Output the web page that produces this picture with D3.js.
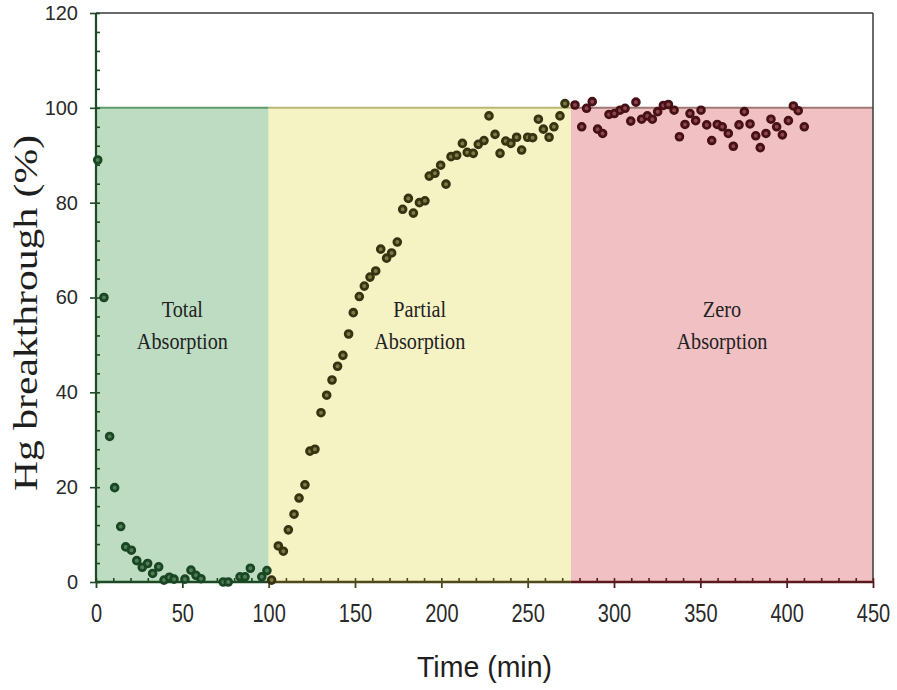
<!DOCTYPE html>
<html>
<head>
<meta charset="utf-8">
<script src="https://cdn.jsdelivr.net/npm/d3@7"></script>
<style>
  html, body { margin: 0; padding: 0; background: #fff; }
  svg { display: block; }
</style>
</head>
<body>
<svg id="chart" width="897" height="690"></svg>
<script>
// Hg breakthrough measurements (time in min, breakthrough in %)
const timeTotal = [1, 4.6, 7.9, 10.8, 14.3, 17.2, 20.5, 23.6, 26.8, 29.9, 32.8, 36.3, 39.4, 42.5, 45.2, 51.5, 55, 57.9, 60.8, 73.7, 76.6, 83.4, 86.3, 89.4, 96, 99];
const hgTotal   = [89, 60, 30.7, 19.9, 11.7, 7.4, 6.7, 4.5, 3.1, 3.9, 1.8, 3.2, 0.4, 1.0, 0.6, 0.6, 2.5, 1.4, 0.7, 0, 0, 1.1, 1.1, 2.9, 1.1, 2.4];

const timePartial = [101.7, 105.6, 108.5, 111.4, 114.7, 117.6, 121, 123.9, 126.8, 130.3, 133.6, 136.7, 139.9, 143, 146.3, 149, 152.5, 155.4, 158.7, 162, 164.9, 168.3, 171.2, 174.5, 177.6, 180.9, 183.8, 187.3, 190.5, 193, 196.3, 199.6, 202.7, 205.6, 208.9, 212.2, 215, 218.5, 221.4, 224.7, 227.6, 231.1, 234, 237.3, 240.3, 243.6, 246.5, 250, 252.9, 256.2, 259.1, 262.4, 265.2, 268.7, 271.6];
const hgPartial   = [0.4, 7.6, 6.5, 11, 14.3, 17.7, 20.5, 27.6, 28, 35.7, 39.4, 42.6, 45.5, 47.8, 52.3, 56.8, 60.2, 62.4, 64.3, 65.6, 70.2, 68.3, 69.4, 71.7, 78.6, 80.9, 77.8, 80, 80.4, 85.6, 86.2, 87.9, 83.9, 89.7, 90, 92.5, 90.6, 90.4, 92.3, 93.1, 98.3, 94.4, 90.4, 93, 92.5, 93.8, 91.1, 93.8, 93.7, 97.6, 95.5, 93.8, 96, 98.3, 100.9];

const timeZero = [277.4, 281.3, 284.1, 287.4, 290.5, 293.4, 297.1, 300.2, 303.5, 306.4, 309.7, 312.7, 316, 319.3, 322.2, 325.3, 328.6, 331.5, 334.8, 337.9, 341.1, 344, 347.3, 350.4, 353.7, 356.6, 359.8, 362.7, 366.2, 369.1, 372.4, 375.5, 378.8, 382.1, 384.7, 388, 390.9, 394.2, 397.5, 401, 403.9, 406.7, 410.2];
const hgZero   = [100.6, 96, 99.9, 101.3, 95.5, 94.6, 98.6, 98.8, 99.5, 99.9, 97.2, 101.2, 97.6, 98.3, 97.6, 99.2, 100.5, 100.7, 99.5, 93.9, 96.5, 98.8, 97.3, 99.5, 96.4, 93.1, 96.5, 96, 94.6, 91.9, 96.4, 99.2, 96.6, 94.1, 91.6, 94.6, 97.6, 96, 94.3, 97.3, 100.4, 99.4, 96];

// Absorption stages
const regionLabels = [["Total", "Absorption"], ["Partial", "Absorption"], ["Zero", "Absorption"]];
const regionStart  = [0, 100, 275];
const regionEnd    = [100, 275, 450];
const regionTop    = 100;

// Axis ticks
const xTicks      = [0, 50, 100, 150, 200, 250, 300, 350, 400, 450];
const xMinorTicks = d3.range(0, 451, 10);
const yTicks      = [0, 20, 40, 60, 80, 100, 120];
const yMinorTicks = d3.range(0, 121, 4);

const xTitle = "Time (min)";
const yTitle = "Hg breakthrough (%)";

// Styling per stage
const regionFill  = ["#bedcc2", "#f5f2c4", "#f0c0c2"];
const regionEdge  = ["#5e9a6b", "#bcb674", "#a07878"];
const axisColor   = ["#1d4a25", "#4f4a1c", "#5a1a1e"];
const markStroke  = ["#1a4624", "#363310", "#471015"];
const markFill    = ["#4f7f57", "#7d7944", "#8c454d"];

const series = [
  { t: timeTotal, v: hgTotal },
  { t: timePartial, v: hgPartial },
  { t: timeZero, v: hgZero }
];

const svg = d3.select("#chart");
const margin = { top: 13, right: 24, bottom: 108, left: 96 };
const width = 897, height = 690;

const x = d3.scaleLinear().domain([0, 450]).range([margin.left, width - margin.right]);
const y = d3.scaleLinear().domain([0, 120]).range([height - margin.bottom, margin.top]);

const stageOf = v => (v < regionEnd[0] ? 0 : v < regionEnd[1] ? 1 : 2);

// Stage backgrounds
const regions = svg.append("g").selectAll("g")
  .data(regionLabels.map((lab, i) => ({ lab, i })))
  .join("g");

regions.append("rect")
  .attr("x", d => x(regionStart[d.i]))
  .attr("y", y(regionTop))
  .attr("width", d => x(regionEnd[d.i]) - x(regionStart[d.i]))
  .attr("height", y(0) - y(regionTop))
  .attr("fill", d => regionFill[d.i]);

regions.append("line")
  .attr("x1", d => x(regionStart[d.i]))
  .attr("x2", d => x(regionEnd[d.i]))
  .attr("y1", y(regionTop))
  .attr("y2", y(regionTop))
  .attr("stroke", d => regionEdge[d.i])
  .attr("stroke-width", 2);

// Stage names
regions.append("text")
  .attr("transform", d => `translate(${x((regionStart[d.i] + regionEnd[d.i]) / 2)},0) scale(0.88,1)`)
  .attr("text-anchor", "middle")
  .attr("font-family", "'Liberation Serif', 'Times New Roman', serif")
  .attr("font-size", 23)
  .attr("fill", "#222")
  .selectAll("tspan")
  .data(d => d.lab.map((s, k) => ({ s, k, i: d.i })))
  .join("tspan")
  .attr("x", 0)
  .attr("y", d => 317 + d.k * 32)
  .text(d => d.s);

// Frame: top and right edges
svg.append("line")
  .attr("x1", x(0)).attr("x2", x(450))
  .attr("y1", y(120)).attr("y2", y(120))
  .attr("stroke", "#3a3a3a").attr("stroke-width", 1.5);
svg.append("line")
  .attr("x1", x(450)).attr("x2", x(450))
  .attr("y1", y(120)).attr("y2", y(0))
  .attr("stroke", "#3a3a3a").attr("stroke-width", 1.5);

// Y axis
const yMinor = svg.append("g")
  .attr("transform", `translate(${x(0)},0)`)
  .call(d3.axisRight(y).tickValues(yMinorTicks).tickSize(4).tickFormat(""));
yMinor.select(".domain").remove();
yMinor.selectAll("line").attr("stroke", axisColor[0]).attr("stroke-width", 1.6);

const yAxis = svg.append("g")
  .attr("transform", `translate(${x(0)},0)`)
  .call(d3.axisLeft(y).tickValues(yTicks).tickSizeInner(6).tickSizeOuter(0).tickPadding(12));
yAxis.select(".domain").remove();
yAxis.selectAll("line").attr("stroke", axisColor[0]).attr("stroke-width", 1.6);
yAxis.selectAll("text")
  .attr("font-family", "Arial, 'Liberation Sans', sans-serif")
  .attr("font-size", 20)
  .attr("fill", "#2a2a2a");

svg.append("line")
  .attr("x1", x(0)).attr("x2", x(0))
  .attr("y1", y(0)).attr("y2", y(120))
  .attr("stroke", axisColor[0]).attr("stroke-width", 2.2);

// X axis
const xMinor = svg.append("g")
  .attr("transform", `translate(0,${y(0)})`)
  .call(d3.axisTop(x).tickValues(xMinorTicks).tickSize(4).tickFormat(""));
xMinor.select(".domain").remove();
xMinor.selectAll("line")
  .attr("stroke", d => axisColor[stageOf(d === 450 ? 449 : d)])
  .attr("stroke-width", 1.6);

const xAxis = svg.append("g")
  .attr("transform", `translate(0,${y(0)})`)
  .call(d3.axisBottom(x).tickValues(xTicks).tickSizeInner(6).tickSizeOuter(0).tickPadding(16));
xAxis.select(".domain").remove();
xAxis.selectAll("line")
  .attr("stroke", d => axisColor[stageOf(d === 450 ? 449 : d)])
  .attr("stroke-width", 1.8);
xAxis.selectAll("text")
  .attr("font-family", "Arial, 'Liberation Sans', sans-serif")
  .attr("font-size", 25)
  .attr("fill", "#2a2a2a")
  .attr("transform", "scale(0.8,1)");

svg.append("g").selectAll("line")
  .data(regionStart.map((s, i) => i))
  .join("line")
  .attr("x1", i => x(regionStart[i]))
  .attr("x2", i => x(regionEnd[i]))
  .attr("y1", y(0)).attr("y2", y(0))
  .attr("stroke", i => axisColor[i])
  .attr("stroke-width", 2.4);

// Measurement points
series.forEach((s, i) => {
  svg.append("g")
    .selectAll("circle")
    .data(s.t.map((t, k) => [t, s.v[k]]))
    .join("circle")
    .attr("cx", d => x(d[0]))
    .attr("cy", d => y(d[1]))
    .attr("r", 3.4)
    .attr("fill", markFill[i])
    .attr("stroke", markStroke[i])
    .attr("stroke-width", 2.8);
});

// Axis titles
svg.append("text")
  .attr("transform", `translate(${(x(0) + x(450)) / 2},677) scale(0.95,1)`)
  .attr("text-anchor", "middle")
  .attr("font-family", "Arial, 'Liberation Sans', sans-serif")
  .attr("font-size", 30)
  .attr("fill", "#1e1e1e")
  .text(xTitle);

svg.append("text")
  .attr("transform", `translate(37,313) rotate(-90)`)
  .attr("text-anchor", "middle")
  .attr("font-family", "'Liberation Serif', 'Times New Roman', serif")
  .attr("font-size", 34)
  .attr("textLength", 356)
  .attr("lengthAdjust", "spacingAndGlyphs")
  .attr("fill", "#1e1e1e")
  .text(yTitle);
</script>
</body>
</html>
